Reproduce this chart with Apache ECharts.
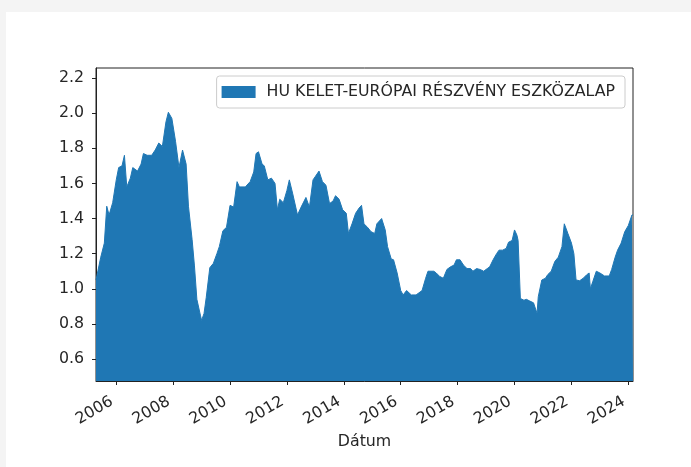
<!DOCTYPE html>
<html>
<head>
<meta charset="utf-8">
<script src="https://cdn.jsdelivr.net/npm/echarts@6/dist/echarts.min.js"></script>
<style>
  html, body { margin: 0; padding: 0; background: #f4f4f4; }
  #wrap { position: relative; width: 691px; height: 467px; overflow: hidden; }
  #chart { position: absolute; left: 6px; top: 12px; width: 685px; height: 455px; background: #fff; }
</style>
</head>
<body>
<div id="wrap"><div id="chart"></div></div>
<script>
var seriesName = 'HU KELET-EURÓPAI RÉSZVÉNY ESZKÖZALAP';

var dates = [
    '2005-04-16', '2005-06-16', '2005-08-01', '2005-09-01', '2005-10-01', '2005-11-16',
    '2006-01-01', '2006-02-01', '2006-03-16', '2006-04-16', '2006-05-16', '2006-07-01',
    '2006-08-01', '2006-10-01', '2006-11-16', '2006-12-16', '2007-02-01', '2007-04-01',
    '2007-05-16', '2007-07-01', '2007-08-16', '2007-10-01', '2007-11-01', '2007-12-16',
    '2008-02-01', '2008-03-16', '2008-05-01', '2008-06-16', '2008-07-16', '2008-09-01',
    '2008-10-01', '2008-11-01', '2008-12-16', '2009-01-01', '2009-02-01', '2009-03-01',
    '2009-04-16', '2009-06-01', '2009-07-16', '2009-08-16', '2009-10-01', '2009-11-16',
    '2010-01-01', '2010-02-16', '2010-04-01', '2010-05-01', '2010-07-16', '2010-09-16',
    '2010-11-01', '2010-12-01', '2011-01-01', '2011-02-16', '2011-03-16', '2011-05-01',
    '2011-06-16', '2011-08-01', '2011-09-01', '2011-10-01', '2011-11-16', '2012-01-01',
    '2012-02-01', '2012-03-16', '2012-05-16', '2012-07-01', '2012-09-01', '2012-10-16',
    '2012-12-01', '2013-01-01', '2013-02-16', '2013-04-01', '2013-05-16', '2013-07-01',
    '2013-08-16', '2013-09-16', '2013-11-01', '2013-12-16', '2014-02-01', '2014-03-01',
    '2014-04-16', '2014-06-01', '2014-07-16', '2014-08-16', '2014-09-16', '2014-11-01',
    '2014-12-16', '2015-02-01', '2015-03-01', '2015-05-01', '2015-06-16', '2015-07-16',
    '2015-09-01', '2015-10-01', '2015-11-16', '2016-01-01', '2016-02-01', '2016-03-16',
    '2016-05-16', '2016-07-16', '2016-10-01', '2016-11-16', '2016-12-16', '2017-03-01',
    '2017-04-01', '2017-05-16', '2017-07-01', '2017-08-16', '2017-10-01', '2017-11-16',
    '2017-12-16', '2018-02-01', '2018-03-16', '2018-05-01', '2018-06-16', '2018-07-16',
    '2018-09-01', '2018-10-16', '2018-12-01', '2019-01-16', '2019-02-16', '2019-04-01',
    '2019-05-16', '2019-06-16', '2019-08-01', '2019-09-16', '2019-10-16', '2019-12-01',
    '2020-01-01', '2020-02-01', '2020-02-16', '2020-03-16', '2020-05-01', '2020-06-01',
    '2020-07-16', '2020-09-01', '2020-10-16', '2020-11-01', '2020-12-16', '2021-02-01',
    '2021-03-01', '2021-04-16', '2021-06-01', '2021-07-16', '2021-09-01', '2021-10-01',
    '2021-10-16', '2021-11-16', '2022-01-01', '2022-02-01', '2022-03-01', '2022-04-16',
    '2022-06-01', '2022-07-16', '2022-08-16', '2022-09-01', '2022-10-01', '2022-11-16',
    '2023-01-01', '2023-03-01', '2023-05-01', '2023-06-01', '2023-07-16', '2023-08-16',
    '2023-10-01', '2023-11-16', '2024-01-01', '2024-02-16', '2024-03-01'
];

var values = [
    1.05, 1.18, 1.26, 1.47, 1.42, 1.49,
    1.62, 1.69, 1.70, 1.76, 1.58, 1.63,
    1.69, 1.67, 1.71, 1.77, 1.76, 1.76,
    1.79, 1.83, 1.81, 1.95, 2.005, 1.97,
    1.84, 1.69, 1.79, 1.71, 1.47, 1.28,
    1.13, 0.94, 0.85, 0.82, 0.86, 0.95,
    1.12, 1.145, 1.20, 1.24, 1.33, 1.35,
    1.475, 1.465, 1.61, 1.58, 1.58, 1.61,
    1.665, 1.77, 1.78, 1.71, 1.70, 1.62,
    1.63, 1.60, 1.45, 1.51, 1.49, 1.56,
    1.62, 1.54, 1.42, 1.465, 1.52, 1.465,
    1.62, 1.64, 1.67, 1.61, 1.59, 1.485,
    1.50, 1.53, 1.51, 1.45, 1.43, 1.315,
    1.37, 1.43, 1.46, 1.475, 1.37, 1.35,
    1.325, 1.315, 1.37, 1.40, 1.335, 1.24,
    1.17, 1.165, 1.09, 0.99, 0.965, 0.99,
    0.965, 0.965, 0.99, 1.06, 1.10, 1.10,
    1.09, 1.07, 1.06, 1.11, 1.125, 1.135,
    1.165, 1.165, 1.135, 1.115, 1.115, 1.10,
    1.115, 1.11, 1.10, 1.115, 1.125, 1.165,
    1.20, 1.22, 1.22, 1.23, 1.265, 1.275,
    1.335, 1.305, 1.275, 0.945, 0.935, 0.94,
    0.93, 0.92, 0.86, 0.955, 1.05, 1.06,
    1.08, 1.10, 1.155, 1.18, 1.24, 1.37,
    1.38, 1.315, 1.26, 1.20, 1.05, 1.046,
    1.06, 1.08, 1.09, 1.00, 1.04, 1.10,
    1.09, 1.073, 1.073, 1.11, 1.18, 1.22,
    1.26, 1.325, 1.36, 1.42, 1.42
];

var yearTicks = [2006, 2008, 2010, 2012, 2014, 2016, 2018, 2020, 2022, 2024];
var yTicks = [0.6, 0.8, 1.0, 1.2, 1.4, 1.6, 1.8, 2.0, 2.2];

// dates go on a plain value axis as timestamps, so custom tick positions work
function toTime(s) {
    var p = s.split('-');
    return Date.UTC(+p[0], +p[1] - 1, +p[2]);
}
var seriesData = dates.map(function (d, i) {
    return [toTime(d), values[i]];
});
var yearTickTimes = yearTicks.map(function (y) {
    return Date.UTC(y, 0, 1);
});

var textColor = '#262626';
var fontFamily = 'DejaVu Sans';
var fontSize = 15.8;

var myChart = echarts.init(document.getElementById('chart'));

var option = {
    animation: false,
    textStyle: { fontFamily: fontFamily },
    grid: {
        left: 90,
        right: 58,
        top: 56,
        bottom: 86,
        show: true,
        borderColor: '#222',
        borderWidth: 1,
        backgroundColor: 'transparent'
    },
    legend: {
        data: [seriesName],
        right: 66,
        top: 64,
        itemWidth: 34,
        itemHeight: 12,
        padding: [8, 10, 8, 5],
        borderColor: '#ccc',
        borderWidth: 1,
        borderRadius: 3,
        backgroundColor: 'rgba(255,255,255,0.8)',
        textStyle: {
            fontFamily: fontFamily,
            fontSize: fontSize,
            color: textColor,
            padding: [0, 0, 0, 6]
        },
        itemStyle: { borderWidth: 0 },
        icon: 'rect'
    },
    xAxis: {
        type: 'value',
        min: toTime(dates[0]),
        max: toTime(dates[dates.length - 1]),
        name: 'Dátum',
        nameLocation: 'middle',
        nameGap: 53,
        nameTextStyle: { fontFamily: fontFamily, fontSize: fontSize, color: textColor },
        axisLine: { show: true, lineStyle: { color: '#222', width: 1 } },
        axisTick: {
            show: true,
            length: 4,
            customValues: yearTickTimes,
            lineStyle: { color: '#222' }
        },
        axisLabel: {
            customValues: yearTickTimes,
            rotate: 30,
            margin: 17,
            padding: [0, 5, 0, 0],
            fontFamily: fontFamily,
            fontSize: fontSize,
            color: textColor,
            formatter: function (val) {
                return String(new Date(val).getUTCFullYear());
            }
        },
        splitLine: { show: false }
    },
    yAxis: {
        type: 'value',
        min: 0.475,
        max: 2.257,
        axisLine: { show: true, lineStyle: { color: '#222', width: 1 } },
        axisTick: {
            show: true,
            length: 4,
            customValues: yTicks,
            lineStyle: { color: '#222' }
        },
        axisLabel: {
            customValues: yTicks,
            margin: 12,
            fontFamily: fontFamily,
            fontSize: fontSize,
            color: textColor,
            formatter: function (val) {
                return val.toFixed(1);
            }
        },
        splitLine: { show: false }
    },
    series: [{
        name: seriesName,
        type: 'line',
        data: seriesData,
        symbol: 'none',
        smooth: false,
        itemStyle: { color: '#1f77b4' },
        lineStyle: { color: '#1f77b4', width: 1 },
        areaStyle: { color: '#1f77b4', opacity: 1, origin: 'start' }
    }]
};

myChart.setOption(option);
</script>
</body>
</html>
